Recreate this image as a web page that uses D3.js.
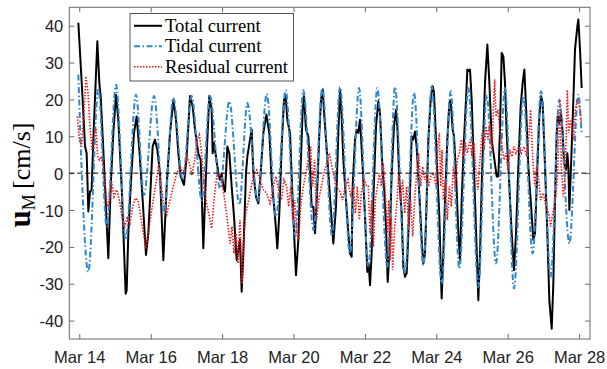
<!DOCTYPE html>
<html><head><meta charset="utf-8">
<script src="https://cdn.jsdelivr.net/npm/d3@7"></script>
<style>body{margin:0;background:#fff} svg{display:block}</style>
</head><body><svg id="c" width="607" height="369"></svg>
<script>
// ---------------- data (day of March 2019, value in cm/s) ----------------
const tickDays = [14,16,18,20,22,24,26,28];
const yTicks = [-40,-30,-20,-10,0,10,20,30,40];
const seriesNames = ["Total current","Tidal current","Residual current"];

const totalCurrent = [[13.973,40.8],[14.094,19.9],[14.160,7.3],[14.206,5.4],[14.253,-10.4],[14.300,-5.0],[14.346,-4.5],[14.393,9.1],[14.505,35.8],[14.561,24.5],[14.599,20.9],[14.673,6.3],[14.720,-3.6],[14.813,-23.1],[14.879,-3.6],[14.953,10.9],[15.028,21.3],[15.093,14.5],[15.187,-3.6],[15.299,-32.7],[15.327,-31.8],[15.374,-16.3],[15.439,-3.6],[15.532,10.9],[15.607,15.4],[15.682,6.3],[15.775,-7.3],[15.868,-22.2],[15.934,-16.3],[15.999,-3.6],[16.055,7.3],[16.120,9.1],[16.186,6.3],[16.260,0],[16.354,-23.6],
[16.447,-3.6],[16.541,10.9],[16.634,19.9],[16.709,14.5],[16.774,5.4],[16.839,-0.9],[16.933,-3.2],[17.007,4.5],[17.101,20.9],[17.176,18.1],[17.241,11.8],[17.334,5.4],[17.400,3.6],[17.456,-14.5],[17.474,-20.4],[17.521,-7.3],[17.586,9.1],[17.642,20.9],[17.708,17.2],[17.736,5.4],[17.773,8.2],[17.829,4.5],[17.894,0],[17.941,-1.8],[17.988,0],[18.035,-3.6],[18.081,-5],[18.109,0],[18.147,7.2],[18.203,5.4],[18.268,-3.6],[18.334,-11.8],[18.408,-23.6],[18.455,-20.9],[18.501,-18.1],[18.548,-32.2],[18.595,-21.8],[18.669,0],[18.707,4.5],[18.782,9.1],[18.828,11.8],[18.875,0],[18.950,-6.4],[19.015,-8.2],[19.080,0],[19.155,10.9],[19.240,15.9],
[19.323,10.9],[19.388,-1.8],[19.482,-11.8],[19.547,-20.4],[19.603,-10.9],[19.668,7.2],[19.734,19.9],[19.781,20.9],[19.827,14.5],[19.902,10.9],[19.949,-0.9],[19.995,-11.8],[20.070,-27.7],[20.135,-18.1],[20.201,1.8],[20.257,17.2],[20.294,20.9],[20.350,11.8],[20.415,10],[20.462,1.8],[20.509,-9.1],[20.556,-9.1],[20.602,-16.3],[20.668,-3.6],[20.724,10.9],[20.770,19.9],[20.817,22.7],[20.864,15.4],[20.910,9.1],[20.976,0],[21.041,-9.1],[21.116,-19.1],[21.190,-9.1],[21.256,10.9],[21.303,22.7],[21.349,15.4],[21.396,3.6],[21.471,-7.3],[21.536,-16.3],[21.583,-21.8],[21.629,-22.7],[21.657,-3.6],[21.723,9.1],[21.769,11.8],[21.816,10.9],[21.863,14.5],[21.937,1.8],[22.003,-11.8],
[22.068,-26.8],[22.105,-24.5],[22.143,-30.4],[22.189,-21.8],[22.236,-7.3],[22.311,12.7],[22.376,19.5],[22.423,16.3],[22.498,0],[22.535,-3.6],[22.591,-14.5],[22.638,-29.5],[22.684,-21.8],[22.750,0],[22.815,12.7],[22.871,17.2],[22.908,12.7],[22.964,-1.8],[23.030,-10.9],[23.076,-25.4],[23.123,-28.1],[23.170,-27.2],[23.217,-16.3],[23.263,-5.4],[23.310,10],[23.357,9.1],[23.403,11.3],[23.450,7.2],[23.497,-0.9],[23.543,-9.1],[23.590,-18.1],[23.637,-24.5],[23.683,-21.8],[23.730,-7.3],[23.777,9.1],[23.842,19.9],[23.898,23.6],[23.935,21.8],[23.992,9.1],[24.029,0],[24.085,-11.8],[24.122,-25.4],[24.150,-34.0],[24.197,-21.8],[24.244,-7.3],[24.309,9.1],[24.365,19],[24.402,19.9],[24.458,11.8],[24.496,10],[24.552,0],[24.617,-16.3],[24.664,-23.6],[24.711,-7.3],[24.776,9.1],[24.832,19.9],[24.869,28.1],
[24.897,27.7],[24.944,28.1],[24.991,19.9],[25.037,6.3],[25.084,-7.3],[25.131,-20.9],[25.177,-34.5],[25.224,-21.8],[25.271,-3.6],[25.318,10.9],[25.364,24.5],[25.430,34.9],[25.486,24.5],[25.551,9.1],[25.616,4.5],[25.691,-0.9],[25.738,-0.9],[25.784,11.8],[25.831,32.6],[25.878,31.7],[25.924,24.5],[25.971,10.9],[26.046,-3.6],[26.111,-16.3],[26.176,-26.3],[26.233,-16.3],[26.298,1.8],[26.363,18.1],[26.419,24.5],[26.466,28.1],[26.513,18.1],[26.578,1.8],[26.643,-7.3],[26.718,-18.1],[26.765,-16.3],[26.830,1.8],[26.886,15.4],[26.933,20.9],[26.979,19],[27.045,1.8],[27.110,-16.3],[27.166,-34.5],[27.232,-42.2],[27.278,-30],[27.325,-7.3],[27.372,10.9],[27.400,15.4],[27.446,13.6],[27.493,16.3],[27.540,10.9],[27.577,2.7],[27.633,0.9],[27.671,5.4],[27.699,1.8],[27.727,-10],[27.773,1.8],[27.839,19.9],[27.885,33.6],[27.951,39.9],[27.979,41.7],[28.025,33.6],[28.072,23.1]];

const tidalCurrent = [[13.973,26.75],[14.253,-26.8],[14.533,23.1],[14.767,-14.5],[15.028,24.0],[15.299,-18.1],[15.588,21.3],[15.812,-5.9],[16.093,20.9],[16.37,-11],[16.634,20.4],[16.896,-1.8],[17.148,20.9],[17.428,-7.3],[17.661,20.9],[17.941,-4.1],[18.203,19.5],[18.483,-8.6],[18.707,19.0],[18.996,-7.7],[19.250,21.5],[19.510,-11.8],[19.781,22.5],[20.05,-17],[20.275,22.5],[20.56,-15.4],[20.808,23.1],[21.08,-17],[21.303,23.4],[21.58,-21.8],[21.835,23.1],[22.096,-25.4],[22.348,23.1],[22.628,-25.4],[22.843,23.4],[23.123,-27.2],[23.375,21.8],[23.637,-25],[23.870,23.6],[24.150,-30],[24.402,22.2],[24.645,-25.9],[24.897,23.1],[25.177,-30.9],[25.411,21.3],[25.672,-24.5],[25.924,23.1],[26.176,-31.3],[26.438,20.9],[26.699,-21.8],[26.933,22.2],[27.203,-28.1],[27.446,19.9],[27.727,-19.1],[27.978,21.3],[28.072,10.4]];

const residualCurrent = [[13.945,15.4],[14.001,9.1],[14.066,7.2],[14.132,17.2],[14.188,26.3],[14.244,21.8],[14.300,12.7],[14.356,6.3],[14.412,9.1],[14.468,12.2],[14.514,4.5],[14.561,3.6],[14.617,4.5],[14.673,1.8],[14.729,-3.6],[14.785,-9.1],[14.841,-7.3],[14.907,-2.3],[14.972,-6.4],[15.047,-4.5],[15.122,-7.3],[15.196,-11.8],[15.271,-14.5],[15.346,-11.8],[15.420,-13.6],[15.495,-9.1],[15.570,-6.8],[15.644,-7.3],[15.719,-11.8],[15.794,-16.3],[15.868,-20.4],[15.934,-16.3],[15.999,-11.8],[16.074,-7.3],[16.149,-2.7],[16.223,2.3],[16.298,-3.6],[16.373,-9.1],
[16.447,-11.3],[16.541,-7.3],[16.634,-3.6],[16.727,0],[16.821,1.8],[16.914,0],[17.007,4.5],[17.082,2.7],[17.157,-0.5],[17.232,3.6],[17.306,9.1],[17.362,10.4],[17.418,6.3],[17.474,-0.9],[17.549,-7.3],[17.624,-10.9],[17.708,-15],[17.773,-7.3],[17.848,-0.9],[17.923,0],[17.997,-2.3],[18.072,-7.3],[18.147,-12.7],[18.221,-19.1],[18.277,-14.5],[18.333,-21.8],[18.389,-16.3],[18.445,-24.5],[18.501,-12.7],[18.557,-30],[18.613,-16.3],[18.669,-10.9],[18.744,-7.3],[18.819,-3.6],[18.893,0],[18.968,0.9],[19.062,-1.8],[19.155,-4.5],
[19.248,-5.4],[19.342,-8.2],[19.435,-3.6],[19.510,-0.9],[19.584,-4.5],[19.659,-7.3],[19.734,-1.8],[19.809,-3.6],[19.865,-9.1],[19.921,-3.6],[19.977,-12.7],[20.033,-7.3],[20.089,-16.3],[20.145,-18.1],[20.201,-9.1],[20.275,-3.6],[20.350,0],[20.425,4.5],[20.481,7.2],[20.537,-3.6],[20.593,3.6],[20.649,-12.7],[20.705,-7.3],[20.780,-3.6],[20.854,0],[20.929,2.7],[21.004,5.4],[21.078,1.8],[21.153,-1.8],[21.228,-4.1],[21.303,-5],[21.377,-7.3],[21.452,-3.6],[21.527,-1.8],[21.601,-6.4],[21.676,-3.6],[21.732,-10.9],[21.788,-3.6],[21.844,-12.7],[21.900,-5.4],[21.975,-1.8],[22.049,-3.6],
[22.096,-3.6],[22.143,-16.3],[22.189,-7.3],[22.236,-20],[22.292,-7.3],[22.348,-3.6],[22.404,0],[22.460,-3.6],[22.516,2.7],[22.572,-5.4],[22.628,-16.3],[22.666,-7.3],[22.703,-23.6],[22.740,-11.8],[22.778,-26.3],[22.834,-14.5],[22.890,-9.1],[22.946,0],[23.002,-7.3],[23.058,-1.8],[23.114,-10.9],[23.170,-3.6],[23.226,-14.5],[23.282,-7.3],[23.338,-17.2],[23.394,-7.3],[23.450,0],[23.506,5.4],[23.562,-3.6],[23.618,1.8],[23.674,-1.8],[23.730,0],[23.786,-3.6],[23.842,-0.9],[23.917,0],[23.992,-3.6],[24.048,8.2],[24.085,10.9],[24.122,-3.6],[24.160,6.3],[24.197,-7.3],[24.253,-1.8],[24.309,-12.7],[24.365,-3.6],[24.421,-9.1],[24.477,1.8],[24.533,-3.6],[24.589,3.6],[24.646,5.4],[24.702,9.1],[24.758,4.5],[24.814,8.2],[24.870,5.4],
[24.944,9.1],[25.000,4.5],[25.056,8.2],[25.112,0],[25.168,-4.5],[25.224,3.6],[25.280,10.9],[25.336,6.3],[25.392,12.7],[25.448,9.1],[25.504,13.6],[25.560,5.4],[25.598,17.2],[25.635,25.4],[25.672,15.4],[25.728,17.2],[25.784,10.9],[25.840,7.2],[25.896,3.6],[25.952,5.4],[26.008,0.9],[26.064,6.3],[26.120,4.5],[26.176,7.2],[26.232,5.4],[26.307,7.2],[26.382,5.4],[26.457,7.2],[26.531,4.5],[26.587,9.1],[26.643,17.2],[26.699,4.5],[26.755,-3.6],[26.811,1.8],[26.867,-1.8],[26.923,-7.3],[26.998,-5.4],[27.073,-9.1],[27.148,-10.9],[27.204,-14.5],[27.260,-10.9],[27.334,-7.3],[27.390,-1.8],[27.427,9.1],[27.465,20],[27.502,1.8],[27.558,-6.4],[27.614,0],[27.670,22.6],[27.708,10.9],[27.764,14.5],[27.839,9.1],[27.895,17.2],[27.951,20],[28.007,18.1],[28.063,13.6]];

// ---------------- drawing ----------------
const toDate = d => new Date(Date.UTC(2019, 2, 1) + (d - 1) * 864e5);
const L = 69.3, R = 590, T = 7.3, B = 339;
const svg = d3.select("#c");
const x = d3.scaleUtc().domain([toDate(13.72), toDate(28.305)]).range([L, R]);
const y = d3.scaleLinear().domain([-45, 45]).range([B, T]);

const axisColor = "#6a6a6a";
const tickFont = "'Liberation Sans', Arial, Helvetica, sans-serif";
const fmt = d3.utcFormat("%b %d");

// axes
const gx = svg.append("g").attr("transform", `translate(0,${B})`)
  .call(d3.axisBottom(x).tickValues(tickDays.map(toDate)).tickSize(-5).tickPadding(12.5).tickFormat(fmt));
const gxt = svg.append("g").attr("transform", `translate(0,${T})`)
  .call(d3.axisTop(x).tickValues(tickDays.map(toDate)).tickSize(-5).tickFormat(""));
const gy = svg.append("g").attr("transform", `translate(${L},0)`)
  .call(d3.axisLeft(y).tickValues(yTicks).tickSize(-5).tickPadding(6).tickFormat(d => String(d)));
const gyr = svg.append("g").attr("transform", `translate(${R},0)`)
  .call(d3.axisRight(y).tickValues(yTicks).tickSize(-5).tickFormat(""));
[gx, gxt, gy, gyr].forEach(g => {
  g.selectAll(".domain").remove();
  g.selectAll(".tick line").attr("stroke", axisColor).attr("stroke-width", 1);
  g.selectAll("text").attr("font-family", tickFont).attr("font-size", 16.5).attr("fill", "#222");
});
gy.selectAll("text").attr("dy", "0.37em");
gx.selectAll("text").attr("dy", "0.71em");

// box
svg.append("rect").attr("x", L).attr("y", T).attr("width", R - L).attr("height", B - T)
  .attr("fill", "none").attr("stroke", axisColor).attr("stroke-width", 1);

// series
const lineLin = d3.line().x(d => x(toDate(d[0]))).y(d => y(d[1]));
const lineSmooth = d3.line().x(d => x(toDate(d[0]))).y(d => y(d[1])).curve(d3.curveMonotoneX);

const styles = [
  {color: "#000000", width: 2, dash: null},
  {color: "#3088cc", width: 2, dash: "6,2.5,1.5,2.5"},
  {color: "#f01818", width: 1.6, dash: "1.5,1.5"}
];

svg.append("path").datum(totalCurrent).attr("d", lineLin)
  .attr("fill", "none").attr("stroke", styles[0].color).attr("stroke-width", styles[0].width)
  .attr("stroke-linejoin", "round");
svg.append("path").datum(tidalCurrent).attr("d", lineSmooth)
  .attr("fill", "none").attr("stroke", styles[1].color).attr("stroke-width", styles[1].width)
  .attr("stroke-dasharray", styles[1].dash);
svg.append("path").datum(residualCurrent).attr("d", lineLin)
  .attr("fill", "none").attr("stroke", styles[2].color).attr("stroke-width", styles[2].width)
  .attr("stroke-dasharray", styles[2].dash);

// zero line
svg.append("line").attr("x1", L).attr("x2", R).attr("y1", y(0)).attr("y2", y(0))
  .attr("stroke", "#000").attr("stroke-width", 1).attr("stroke-dasharray", "5,3");

// legend
const lg = svg.append("g");
lg.append("rect").attr("x", 130).attr("y", 13.5).attr("width", 163.5).attr("height", 67.5)
  .attr("fill", "#fff").attr("stroke", "#555").attr("stroke-width", 1);
seriesNames.forEach((name, i) => {
  const cy = 25.8 + i * 20.5;
  lg.append("line").attr("x1", 134).attr("x2", 162).attr("y1", cy).attr("y2", cy)
    .attr("stroke", styles[i].color).attr("stroke-width", styles[i].width)
    .attr("stroke-dasharray", styles[i].dash);
  lg.append("text").attr("x", 165).attr("y", cy + 6).text(name)
    .attr("font-family", "'Liberation Serif', 'Times New Roman', serif").attr("font-size", 18.7).attr("fill", "#000");
});

// y label
const yl = svg.append("text").attr("transform", "translate(30,175) rotate(-90)")
  .attr("text-anchor", "middle").attr("font-family", "'Liberation Serif', 'Times New Roman', serif")
  .attr("font-size", 26).attr("fill", "#000");
yl.append("tspan").attr("font-weight", "bold").attr("font-size", 31).text("u");
yl.append("tspan").attr("font-size", 18).attr("dy", 5).text("M");
yl.append("tspan").attr("dy", -5).text("\u2009[cm/s]");
</script></body></html>
